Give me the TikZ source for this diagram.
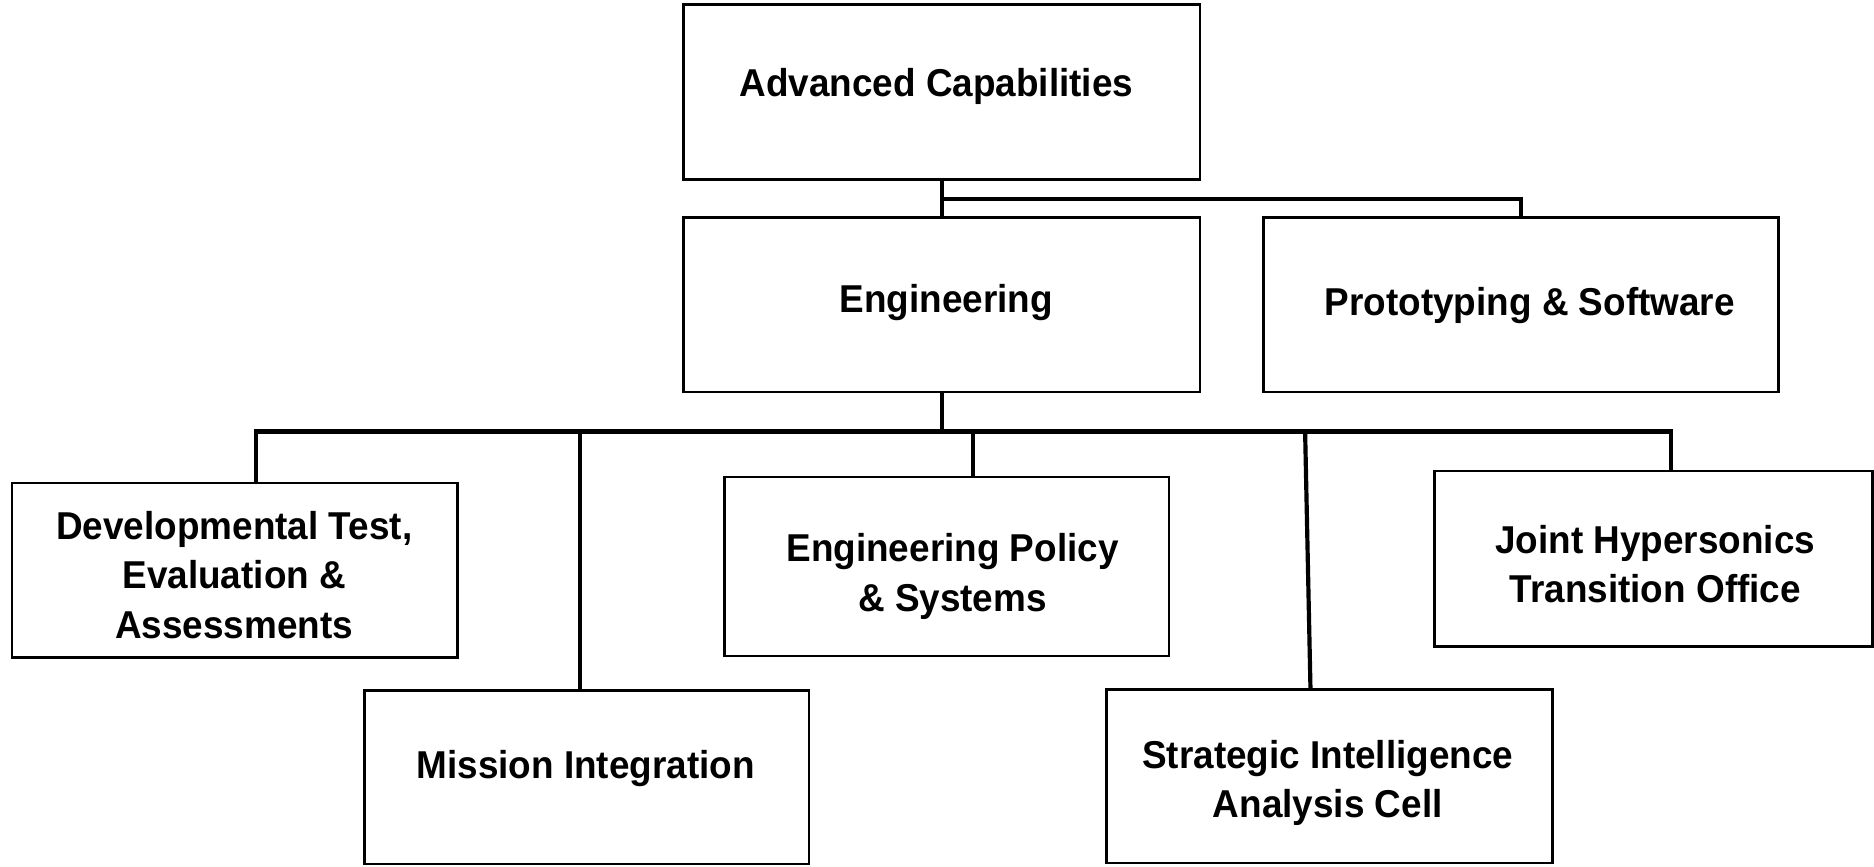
\documentclass[tikz,border=0pt]{standalone}
\usepackage{fontspec}
\setmainfont{Liberation Sans}[FakeStretch=0.95]
\newcommand\capline[1]{\rule{0pt}{23.4pt}\smash{#1}}
\begin{document}
\begin{tikzpicture}[x=1pt,y=-1pt,
  box/.style={draw, line width=2.2pt, rectangle, inner sep=0pt},
  conn/.style={line width=3.5pt, line join=miter},
  txt/.style={align=center, inner sep=0pt, font=\fontsize{32.5}{41.4}\selectfont\bfseries}]
\useasboundingbox (0,0) rectangle (1568,724.6);
% boxes
\node[box, minimum width=432pt, minimum height=146pt] (ac)   at (788,77)     {};
\node[box, minimum width=432pt, minimum height=146pt] (eng)  at (788,255)    {};
\node[box, minimum width=431pt, minimum height=146pt] (ps)   at (1272.5,255) {};
\node[box, minimum width=373pt, minimum height=146pt] (dte)  at (196.5,477)  {};
\node[box, minimum width=372pt, minimum height=145pt] (mi)   at (491,650.5)  {};
\node[box, minimum width=372pt, minimum height=150pt] (eps)  at (792,474)    {};
\node[box, minimum width=373pt, minimum height=145pt] (siac) at (1112.5,649.5) {};
\node[box, minimum width=366pt, minimum height=147pt] (jhto) at (1383.5,467.5) {};
% texts
\node[txt] (tac)   at (783.5,69)  {\capline{Advanced Capabilities}};
\node[txt] (teng)  at (791.7,249.7) {\capline{Engineering}};
\node[txt] (tps)   at (1280,252)  {\capline{Prototyping \& Software}};
\node[txt] (tdte)  at (196,481)   {\capline{Developmental Test,}\\\capline{Evaluation \&}\\\capline{Assessments}};
\node[txt] (tmi)   at (490,640)   {\capline{Mission Integration}};
\node[txt] (teps)  at (797,479)   {\capline{Engineering Policy}\\\capline{\& Systems}};
\node[txt] (tsiac) at (1111,652)  {\capline{Strategic Intelligence}\\\capline{Analysis Cell}};
\node[txt] (tjhto) at (1385,472)  {\capline{Joint Hypersonics}\\\capline{Transition Office}};
% connector coordinates
\coordinate (j1) at (788,166.5);
\coordinate (d1) at (214,361);
\coordinate (d2) at (485.5,361);
\coordinate (d3) at (814,361);
\coordinate (d4) at (1092,361);
\coordinate (d4b) at (1096.5,577);
\coordinate (d5) at (1398,361);
% connectors
\draw[conn] (ac.south) -- (eng.north);
\draw[conn] (j1) -| (ps.north);
\draw[conn] (eng.south) -- (eng.south |- d1);
\draw[conn] (d1 |- dte.north) -- (d1) -- (d5) -- (d5 |- jhto.north);
\draw[conn] (d2) -- (d2 |- mi.north);
\draw[conn] (d3) -- (d3 |- eps.north);
\draw[conn] (d4) -- (d4b);
\end{tikzpicture}
\end{document}
